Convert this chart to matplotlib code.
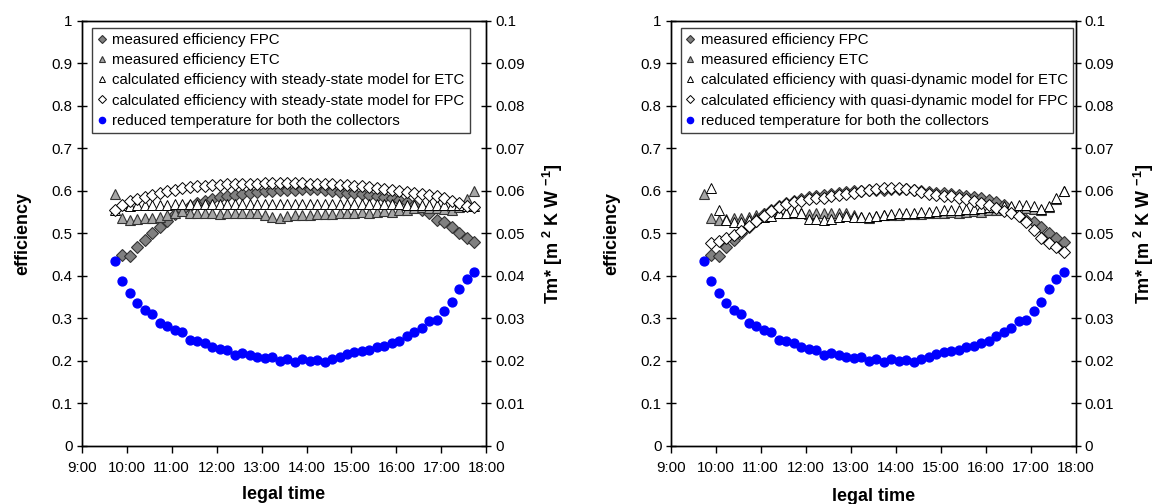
import numpy as np
import matplotlib
matplotlib.use("Agg")
import matplotlib.pyplot as plt
from matplotlib.ticker import MultipleLocator, FuncFormatter

plt.rcParams['font.family'] = ['Liberation Sans', 'DejaVu Sans']
plt.rcParams['mathtext.fontset'] = 'custom'
plt.rcParams['mathtext.rm'] = 'Liberation Sans'
plt.rcParams['mathtext.bf'] = 'Liberation Sans:bold'

nan = np.nan

# legal time of each reading (10 min steps)
times = ["9:44", "9:54",
         "10:04", "10:14", "10:24", "10:34", "10:44", "10:54",
         "11:04", "11:14", "11:24", "11:34", "11:44", "11:54",
         "12:04", "12:14", "12:24", "12:34", "12:44", "12:54",
         "13:04", "13:14", "13:24", "13:34", "13:44", "13:54",
         "14:04", "14:14", "14:24", "14:34", "14:44", "14:54",
         "15:04", "15:14", "15:24", "15:34", "15:44", "15:54",
         "16:04", "16:14", "16:24", "16:34", "16:44", "16:54",
         "17:04", "17:14", "17:24", "17:34", "17:44"]

# reduced temperature Tm* [m2 K/W] (same for both collectors)
tm_reduced = [0.0434, 0.0388, 0.0359, 0.0336, 0.0320, 0.0310, 0.0290, 0.0281, 0.0272, 0.0267,
              0.0249, 0.0247, 0.0241, 0.0233, 0.0227, 0.0226, 0.0214, 0.0218, 0.0214, 0.0210,
              0.0207, 0.0209, 0.0201, 0.0204, 0.0197, 0.0205, 0.0201, 0.0202, 0.0198, 0.0204,
              0.0210, 0.0216, 0.0220, 0.0223, 0.0225, 0.0232, 0.0235, 0.0241, 0.0248, 0.0258,
              0.0268, 0.0278, 0.0295, 0.0296, 0.0317, 0.0338, 0.0368, 0.0393, 0.0408]

# measured efficiencies
eta_fpc_meas = [nan, 0.449, 0.447, 0.467, 0.484, 0.502, 0.514, 0.530, 0.545, 0.556,
                0.565, 0.572, 0.577, 0.581, 0.585, 0.588, 0.590, 0.593, 0.595, 0.597,
                0.599, 0.600, 0.601, 0.602, 0.603, 0.604, 0.605, 0.604, 0.602, 0.600,
                0.598, 0.596, 0.594, 0.593, 0.590, 0.588, 0.585, 0.582, 0.578, 0.574,
                0.567, 0.556, 0.547, 0.531, 0.527, 0.516, 0.502, 0.488, 0.479]
eta_etc_meas = [0.592, 0.535, 0.531, 0.533, 0.535, 0.537, 0.538, 0.543, 0.548, 0.552,
                0.549, 0.547, 0.547, 0.548, 0.546, 0.547, 0.547, 0.547, 0.548, 0.547,
                0.543, 0.538, 0.535, 0.540, 0.543, 0.544, 0.544, 0.545, 0.546, 0.546,
                0.547, 0.548, 0.549, 0.550, 0.549, 0.551, 0.552, 0.551, 0.554, 0.556,
                0.560, 0.561, 0.559, 0.560, 0.558, 0.555, 0.562, 0.580, 0.599]

# steady-state model
eta_etc_ss = [0.556, 0.566, 0.565, 0.566, 0.566, 0.567, 0.567, 0.567, 0.568, 0.568,
              0.568, 0.568, 0.568, 0.569, 0.569, 0.569, 0.569, 0.569, 0.569, 0.569,
              0.569, 0.569, 0.569, 0.569, 0.569, 0.569, 0.569, 0.569, 0.569, 0.569,
              0.569, 0.569, 0.568, 0.568, 0.568, 0.568, 0.568, 0.568, 0.568, 0.567,
              0.567, 0.567, 0.567, 0.567, 0.566, 0.566, 0.566, 0.565, 0.564]
eta_fpc_ss = [0.555, 0.566, 0.575, 0.580, 0.586, 0.591, 0.595, 0.599, 0.603, 0.606,
              0.609, 0.611, 0.612, 0.613, 0.614, 0.615, 0.616, 0.617, 0.617, 0.617,
              0.618, 0.618, 0.618, 0.618, 0.618, 0.618, 0.617, 0.617, 0.616, 0.615,
              0.614, 0.613, 0.612, 0.611, 0.609, 0.607, 0.605, 0.603, 0.600, 0.597,
              0.594, 0.592, 0.590, 0.587, 0.582, 0.577, 0.571, 0.564, 0.563]

# quasi-dynamic model
eta_etc_qd = [nan, 0.607, 0.556, 0.532, 0.527, 0.527, 0.531, 0.535, 0.539, 0.541,
              0.547, 0.548, 0.551, 0.548, 0.533, 0.533, 0.531, 0.533, 0.539, 0.540,
              0.539, 0.539, 0.539, 0.540, 0.543, 0.546, 0.548, 0.549, 0.549, 0.550,
              0.551, 0.553, 0.555, 0.556, 0.556, 0.557, 0.558, 0.560, 0.562, 0.563,
              0.564, 0.565, 0.566, 0.566, 0.564, 0.558, 0.564, 0.582, 0.600]
eta_fpc_qd = [nan, 0.477, 0.481, 0.488, 0.496, 0.505, 0.517, 0.529, 0.541, 0.552,
              0.562, 0.568, 0.574, 0.577, 0.580, 0.582, 0.584, 0.587, 0.590, 0.593,
              0.596, 0.599, 0.602, 0.604, 0.606, 0.607, 0.606, 0.604, 0.601, 0.597,
              0.593, 0.591, 0.589, 0.587, 0.584, 0.580, 0.576, 0.572, 0.566, 0.560,
              0.552, 0.547, 0.540, 0.527, 0.508, 0.488, 0.477, 0.467, 0.457]

FS = 10.8
LFS = 13
EDGE = '#333333'


def to_hours(t):
    h, m = t.split(':')
    return int(h) + int(m) / 60.0


def plot_panel(fig, rect, calc_etc, calc_fpc, model, label_x, xlabel_y):
    x = [to_hours(t) for t in times]
    ax = fig.add_axes(rect)
    ax2 = ax.twinx()

    ax.plot(x, eta_fpc_meas, ls='none', marker='D', ms=5.8, mfc='#808080', mec=EDGE, mew=0.8,
            label='measured efficiency FPC', zorder=2)
    ax.plot(x, eta_etc_meas, ls='none', marker='^', ms=7.0, mfc='#a6a6a6', mec=EDGE, mew=0.8,
            label='measured efficiency ETC', zorder=3)
    ax.plot(x, calc_etc, ls='none', marker='^', ms=7.0, mfc='white', mec='black', mew=0.7,
            label=f'calculated efficiency with {model} model for ETC', zorder=4)
    ax.plot(x, calc_fpc, ls='none', marker='D', ms=5.8, mfc='white', mec='black', mew=0.7,
            label=f'calculated efficiency with {model} model for FPC', zorder=5)
    ax2.plot(x, tm_reduced, ls='none', marker='o', ms=6.4, mfc='#0000ff', mec='#0000ff',
             label='reduced temperature for both the collectors')

    ax.set_xlim(9, 18)
    ax.set_ylim(0, 1)
    ax2.set_ylim(0, 0.1)
    ax.xaxis.set_major_locator(MultipleLocator(1))
    ax.xaxis.set_major_formatter(FuncFormatter(lambda v, p: f"{int(round(v))}:00"))
    ax.yaxis.set_major_locator(MultipleLocator(0.1))
    ax.yaxis.set_major_formatter(FuncFormatter(lambda v, p: f"{v:g}"))
    ax2.yaxis.set_major_locator(MultipleLocator(0.01))
    ax2.yaxis.set_major_formatter(FuncFormatter(lambda v, p: f"{round(v, 3):g}"))

    ax.tick_params(axis='x', direction='out', length=5, width=1, labelsize=FS, pad=6)
    ax.tick_params(axis='y', direction='inout', length=7, width=1, labelsize=FS, pad=3)
    ax2.tick_params(axis='y', direction='inout', length=7, width=1, labelsize=FS, pad=3)
    for a in (ax, ax2):
        for s in a.spines.values():
            s.set_linewidth(1.0)

    ax.set_xlabel('legal time', fontsize=LFS, fontweight='bold')
    ax.xaxis.set_label_coords(0.5, xlabel_y)
    ax.set_ylabel('efficiency', fontsize=LFS, fontweight='bold')
    ax.yaxis.set_label_coords(label_x[0], 0.5)
    ax2.set_ylabel(r'Tm* [m $^{\mathbf{2}}$ K W $^{\mathbf{-1}}$]', fontsize=LFS, fontweight='bold')
    ax2.yaxis.set_label_coords(label_x[1], 0.5)

    h1, l1 = ax.get_legend_handles_labels()
    h2, l2 = ax2.get_legend_handles_labels()
    leg = ax2.legend(h1 + h2, l1 + l2, loc='upper left', bbox_to_anchor=(0.025, 0.984),
                     fontsize=FS, frameon=True, fancybox=False, framealpha=1, edgecolor='#404040',
                     handlelength=0.6, handletextpad=0.4, labelspacing=0.42, borderpad=0.35,
                     borderaxespad=0, markerscale=0.7)
    leg.get_frame().set_linewidth(1.0)
    return ax, ax2


def main():
    fig = plt.figure(figsize=(11.58, 5.04), dpi=100)
    plot_panel(fig, [0.0706, 0.1151, 0.3494, 0.8438], eta_etc_ss, eta_fpc_ss,
               'steady-state', (-0.125, 1.135), -0.093)
    plot_panel(fig, [0.5791, 0.1151, 0.3497, 0.8438], eta_etc_qd, eta_fpc_qd,
               'quasi-dynamic', (-0.125, 1.138), -0.099)
    fig.savefig('out.png', dpi=100)
    plt.close(fig)


if __name__ == "__main__": main()
